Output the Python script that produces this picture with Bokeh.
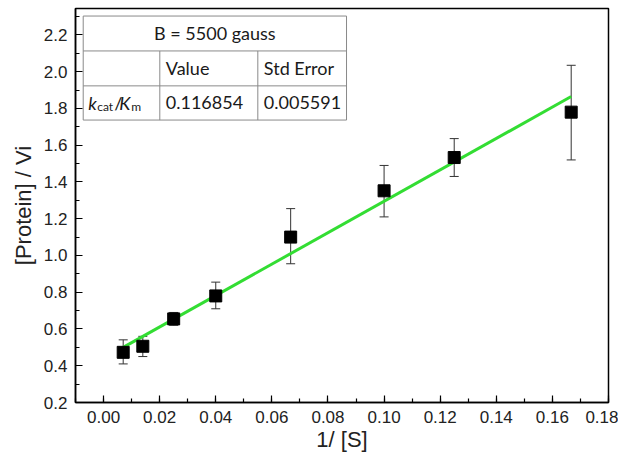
from bokeh.plotting import figure
from bokeh.models import (Range1d, Whisker, TeeHead, ColumnDataSource,
                          NumeralTickFormatter, Label, FixedTicker, Title)
from bokeh.embed import file_html
from bokeh.resources import INLINE

# ---- data ----
inv_s = [0.007, 0.014, 0.025, 0.040, 0.0667, 0.100, 0.125, 0.1667]
prot_vi = [0.473, 0.506, 0.655, 0.780, 1.100, 1.352, 1.533, 1.780]
err_hi = [0.541, 0.560, 0.690, 0.855, 1.255, 1.490, 1.636, 2.035]
err_lo = [0.410, 0.450, 0.620, 0.710, 0.955, 1.210, 1.430, 1.520]
fit_x = [0.007, 0.1667]
fit_y = [0.500, 1.865]
x_ticks = [0.00, 0.02, 0.04, 0.06, 0.08, 0.10, 0.12, 0.14, 0.16, 0.18]
y_ticks = [0.2, 0.4, 0.6, 0.8, 1.0, 1.2, 1.4, 1.6, 1.8, 2.0, 2.2]
table_title = "B = 5500 gauss"
table_cols = ["Value", "Std Error"]
table_vals = ["0.116854", "0.005591"]

p = figure(frame_width=533, frame_height=394, output_backend="svg", toolbar_location=None,
           x_range=Range1d(-0.01, 0.18), y_range=Range1d(0.2, 2.344),
           min_border_left=75, min_border_right=10, min_border_top=8, min_border_bottom=58)
p.grid.visible = False
p.outline_line_color = "black"
p.outline_line_width = 1.5
p.background_fill_color = "white"

for ax in (p.xaxis[0], p.yaxis[0]):
    ax.axis_line_width = 1.5
    ax.axis_line_color = "black"
    ax.major_tick_in = 7
    ax.major_tick_out = 0
    ax.minor_tick_in = 4
    ax.minor_tick_out = 0
    ax.major_tick_line_width = 1.2
    ax.minor_tick_line_width = 1.2
    ax.major_label_text_font = "Liberation Sans"
    ax.major_label_text_font_size = "17px"
    ax.major_label_text_color = "#222222"
    ax.axis_label_text_font = "Liberation Sans"
    ax.axis_label_text_font_size = "22px"
    ax.axis_label_text_font_style = "normal"
    ax.axis_label_text_color = "#222222"
    ax.major_label_standoff = 8

xt = FixedTicker(ticks=x_ticks, minor_ticks=[round(0.01 * i - 0.01, 3) for i in range(0, 20)])
p.xaxis[0].ticker = xt
p.xaxis[0].formatter = NumeralTickFormatter(format="0.00")
p.xaxis[0].axis_label = "1/ [S]"
p.xaxis[0].axis_label_standoff = 1

yt = FixedTicker(ticks=y_ticks, minor_ticks=[round(0.2 + 0.1 * i, 2) for i in range(0, 22)])
p.yaxis[0].ticker = yt
p.yaxis[0].formatter = NumeralTickFormatter(format="0.0")

# y-axis title as a left-side Title, shifted a little below the frame's middle
p.add_layout(Title(text="[Protein] / Vi", align="center", offset=-36, standoff=10,
                   text_font="Liberation Sans", text_font_size="22px",
                   text_font_style="normal", text_color="#222222"), "left")

src = ColumnDataSource(dict(x=inv_s, y=prot_vi, hi=err_hi, lo=err_lo))
w = Whisker(base="x", upper="hi", lower="lo", source=src, line_color="#333333", line_width=1,
            upper_head=TeeHead(size=9, line_color="#333333", line_width=1),
            lower_head=TeeHead(size=9, line_color="#333333", line_width=1))
p.add_layout(w)

p.line(fit_x, fit_y, line_color="#33dd33", line_width=3)
p.scatter("x", "y", source=src, marker="square", size=12, fill_color="black", line_color="black")

# ---- table (layout in data coordinates) ----
tx = [-0.00725, 0.02005, 0.05499, 0.08661]
ty = [2.303, 2.113, 1.923, 1.737]
p.quad(left=tx[0], right=tx[3], top=ty[0], bottom=ty[3], fill_color="white",
       line_color="#8a8a8a", line_width=1)
p.segment(x0=[tx[0], tx[0]], x1=[tx[3], tx[3]], y0=[ty[1], ty[2]], y1=[ty[1], ty[2]],
          line_color="#8a8a8a", line_width=1)
p.segment(x0=[tx[1], tx[2]], x1=[tx[1], tx[2]], y0=[ty[1], ty[1]], y1=[ty[3], ty[3]],
          line_color="#8a8a8a", line_width=1)

FONT = "Lato"
FS = "18px"
def lab(x, y, text, align="left", size=FS, style="normal", xo=0, yo=0):
    p.add_layout(Label(x=x, y=y, text=text, text_font=FONT, text_font_size=size,
                       text_font_style=style, text_align=align, text_baseline="middle",
                       text_color="#1a1a1a", x_offset=xo, y_offset=yo))

row1 = (ty[0] + ty[1]) / 2
row2 = (ty[1] + ty[2]) / 2
row3 = (ty[2] + ty[3]) / 2
lab((tx[0] + tx[3]) / 2, row1, table_title, align="center")
lab(tx[1], row2, table_cols[0], xo=6)
lab(tx[2], row2, table_cols[1], xo=6)
lab(tx[1], row3, table_vals[0], xo=6)
lab(tx[2], row3, table_vals[1], xo=6)
# k_cat / K_m
lab(tx[0], row3, "k", style="italic", xo=5)
lab(tx[0], row3, "cat", size="12px", xo=14, yo=-4)
lab(tx[0], row3, "/", xo=31)
lab(tx[0], row3, "K", style="italic", xo=36)
lab(tx[0], row3, "m", size="12px", xo=48, yo=-4)

open("out.html", "w").write(file_html(p, INLINE))
